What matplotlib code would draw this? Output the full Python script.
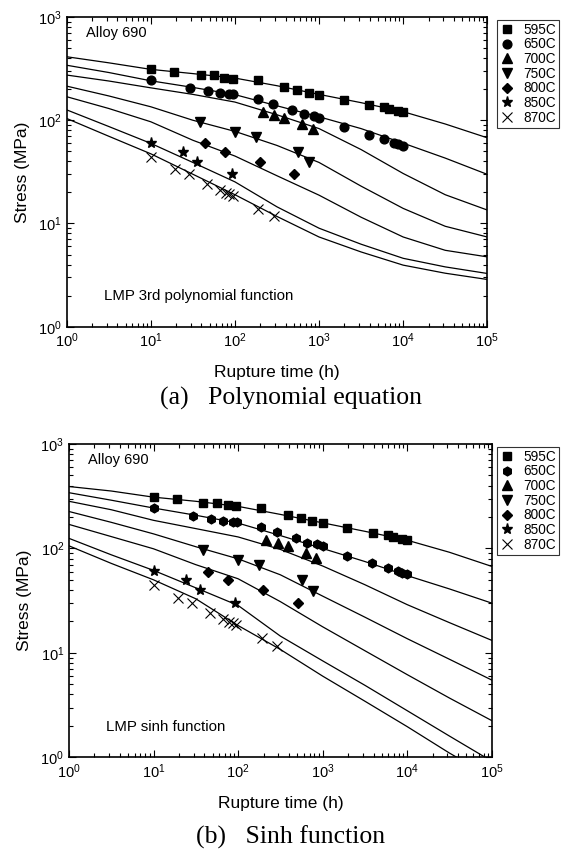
import matplotlib
matplotlib.use("Agg")
import matplotlib.pyplot as plt

plt.rcParams['font.family'] = ['Liberation Sans', 'DejaVu Sans']
plt.rcParams['mathtext.fontset'] = 'custom'
plt.rcParams['mathtext.rm'] = 'Liberation Sans'
plt.rcParams['mathtext.it'] = 'Liberation Sans:italic'

# measured rupture data (h, MPa)
t595 = [10, 19, 39, 57, 75, 94, 187, 388, 550, 755, 1010, 1960, 3970, 5860, 6730, 8600, 9860]
s595 = [312, 296, 275, 275, 258, 253, 244, 211, 196, 185, 176, 157, 140, 134, 128, 123, 120]
t650 = [10, 29, 48, 67, 86, 96, 187, 287, 479, 658, 865, 1010, 1960, 3890, 5980, 7710, 8600, 9860]
s650 = [245, 204, 192, 185, 178, 178, 160, 143, 126, 114, 110, 105, 85.5, 72, 65.5, 60.7, 58.6, 56.8]
t700 = [214, 295, 388, 630, 841]
s700 = [121, 112, 105, 91.5, 81.8]
t750 = [38, 99, 179, 569, 769]
s750 = [97, 77.6, 69.4, 49.7, 39.2]
t800 = [43.5, 77, 196, 510]
s800 = [59.8, 49.7, 39.8, 30.2]
t850 = [10, 24, 35, 92]
s850 = [60.7, 49.7, 39.8, 30.2]
t870 = [10, 19.5, 28.5, 46, 66, 79, 86, 94, 190, 290]
s870 = [44.5, 33.5, 30.2, 24.1, 21.1, 19.9, 19.2, 18.5, 13.8, 11.7]

temps = ['595C', '650C', '700C', '750C', '800C', '850C', '870C']

# fitted curves
t_fit = [1, 3.16, 10, 31.6, 100, 316, 1000, 3160, 10000, 31600, 100000]
poly595 = [412, 360, 311, 283, 256, 216, 178, 148, 121, 92, 67.6]
poly650 = [341, 290, 241, 208, 177, 138, 108, 83, 60, 43, 29.9]
poly700 = [274, 240, 206, 178, 150, 113, 83, 52, 30.5, 19, 13.5]
poly750 = [214, 172, 135, 100, 78, 57, 39, 23, 14, 9.4, 7.4]
poly800 = [169, 130, 96.6, 64, 45, 29, 18.8, 11.5, 7.4, 5.5, 4.75]
poly850 = [126, 87, 59.7, 39, 25.3, 14.5, 9.0, 6.3, 4.6, 3.8, 3.28]
poly870 = [104, 70, 47.3, 30, 19, 11.7, 7.4, 5.3, 3.95, 3.3, 2.87]

t_sinh = [1, 3.16, 10, 31.6, 100, 316, 1000, 3160, 10000, 31600, 100000]
sinh595 = [392, 355, 310, 283, 253, 212, 176, 146, 120, 92, 67.4]
sinh650 = [342, 290, 244, 208, 175, 133, 100, 75, 55, 41, 30]
sinh700 = [283, 235, 186, 155, 129, 98, 68, 45, 29, 19.5, 13.2]
sinh750 = [226, 178, 138, 104, 79.6, 56, 35, 22, 13.7, 8.7, 5.5]
sinh800 = [170, 130, 99.3, 70, 51.3, 31, 17.8, 10.5, 6.2, 3.7, 2.25]
t_sinh850 = [1, 3.16, 10, 31.6, 100, 316, 1000, 3160, 10000, 31600, 84000]
sinh850 = [125, 87, 61.7, 42, 28.5, 14.5, 8.4, 4.9, 2.8, 1.6, 1.0]
t_sinh870 = [1, 3.16, 10, 31.6, 100, 316, 1000, 3160, 10000, 31600, 38700]
sinh870 = [106, 72, 50.1, 33, 18.3, 10.8, 6.0, 3.45, 1.97, 1.1, 1.0]


def draw_panel(ax, curves, round_marker, note, legend_pos):
    for tt, ss in curves:
        ax.plot(tt, ss, color='black', lw=0.9)

    ax.plot(t595, s595, 's', color='black', ms=5.5, label=temps[0])
    ax.plot(t650, s650, round_marker, color='black', ms=6.3, label=temps[1])
    ax.plot(t700, s700, '^', color='black', ms=6.5, label=temps[2])
    ax.plot(t750, s750, 'v', color='black', ms=6.5, label=temps[3])
    ax.plot(t800, s800, 'D', color='black', ms=5.0, label=temps[4])
    ax.plot(t850, s850, '*', color='black', ms=8.0, label=temps[5])
    ax.plot(t870, s870, 'x', color='black', ms=7.0, mew=0.8, label=temps[6])

    ax.set_xscale('log')
    ax.set_yscale('log')
    ax.set_xlim(1, 1e5)
    ax.set_ylim(1, 1e3)
    ax.tick_params(which='both', direction='in', top=True, right=True,
                   labelsize=10.5, width=0.8)
    ax.tick_params(which='major', length=5)
    ax.tick_params(which='minor', length=3)
    for sp in ax.spines.values():
        sp.set_linewidth(1.2)

    ax.set_xlabel('Rupture time (h)', fontsize=12.5, labelpad=11)
    ax.set_ylabel('Stress (MPa)', fontsize=12.5, labelpad=6)
    ax.text(0.045, 0.935, 'Alloy 690', transform=ax.transAxes, fontsize=10.5)
    ax.text(0.088, 0.085, note, transform=ax.transAxes, fontsize=10.8)

    leg = ax.legend(loc='upper left', bbox_to_anchor=legend_pos,
                    bbox_transform=ax.figure.transFigure, fontsize=9.8,
                    frameon=True, fancybox=False, edgecolor='black',
                    borderaxespad=0, borderpad=0.2, labelspacing=0.05,
                    handlelength=1.0, handletextpad=0.75)
    leg.get_frame().set_linewidth(0.8)


fig = plt.figure(figsize=(5.64, 8.5), dpi=100)
ax1 = fig.add_axes([0.1183, 0.6156, 0.7457, 0.3644])
ax2 = fig.add_axes([0.1223, 0.1090, 0.7495, 0.3686])

poly = [(t_fit, poly595), (t_fit, poly650), (t_fit, poly700), (t_fit, poly750),
        (t_fit, poly800), (t_fit, poly850), (t_fit, poly870)]
sinh = [(t_sinh, sinh595), (t_sinh, sinh650), (t_sinh, sinh700), (t_sinh, sinh750),
        (t_sinh, sinh800), (t_sinh850, sinh850), (t_sinh870, sinh870)]

draw_panel(ax1, poly, 'o', 'LMP 3rd polynomial function', (497 / 564, 1 - 20 / 850))
draw_panel(ax2, sinh, 'h', 'LMP sinh function', (497 / 564, 1 - 447 / 850))

fig.text(291 / 564, 1 - 398 / 850, '(a)   Polynomial equation', ha='center', va='center',
         fontsize=18.5, family='Liberation Serif')
fig.text(291 / 564, 1 - 837 / 850, '(b)   Sinh function', ha='center', va='center',
         fontsize=18.5, family='Liberation Serif')

fig.savefig('out.png', dpi=100)
